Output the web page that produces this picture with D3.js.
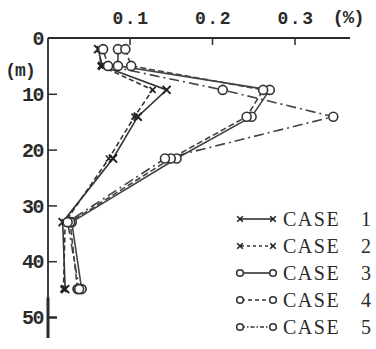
<!DOCTYPE html>
<html><head><meta charset="utf-8">
<script src="https://cdn.jsdelivr.net/npm/d3@7"></script>
<style>body{margin:0;background:#fff}svg{display:block}</style>
</head><body>
<script>
const depths = [2, 5, 9.3, 14.1, 21.6, 33, 45];
const case1 = [0.062, 0.067, 0.145, 0.110, 0.080, 0.019, 0.022];
const case2 = [0.064, 0.065, 0.128, 0.106, 0.075, 0.022, 0.020];
const case3 = [0.086, 0.086, 0.270, 0.248, 0.157, 0.030, 0.042];
const case4 = [0.095, 0.102, 0.262, 0.242, 0.150, 0.028, 0.037];
const case5 = [0.068, 0.074, 0.213, 0.347, 0.143, 0.025, 0.039];
const xTicks = [0.1, 0.2, 0.3];
const yTicks = [0, 10, 20, 30, 40, 50];
const caseNames = ["CASE", "CASE", "CASE", "CASE", "CASE"];
const caseNums = ["1", "2", "3", "4", "5"];

const series = [
  {vals: case1, marker: "x", dash: null, big: true},
  {vals: case2, marker: "x", dash: "5,3", big: false},
  {vals: case3, marker: "o", dash: null},
  {vals: case4, marker: "o", dash: "6,3"},
  {vals: case5, marker: "o", dash: "10,4,2,4"}
];

const W = 376, H = 349;
const svg = d3.select("body").append("svg").attr("width", W).attr("height", H);
const x = d3.scaleLinear().domain([0, 0.3]).range([47, 294.5]);
const y = d3.scaleLinear().domain([0, 50]).range([38, 317]);
const ink = "#2a2a2a";

// top axis
const gx = svg.append("g").attr("transform", `translate(0,${y(0)})`)
  .call(d3.axisTop(x).tickValues(xTicks).tickSizeInner(-7).tickSizeOuter(0).tickPadding(14).tickFormat(d3.format(".1f")));
gx.select(".domain").remove();
gx.selectAll(".tick line").attr("stroke", ink).attr("stroke-width", 1.5);
gx.selectAll(".tick text").attr("fill", ink).attr("font-family", "Liberation Mono").attr("font-weight", "bold")
  .attr("font-size", 18).attr("letter-spacing", 1.5).attr("dx", 1);
svg.append("line").attr("x1", 48).attr("x2", 350).attr("y1", y(0)).attr("y2", y(0))
  .attr("stroke", ink).attr("stroke-width", 1.8);

// left axis
const gy = svg.append("g").attr("transform", `translate(48,0)`)
  .call(d3.axisLeft(y).tickValues(yTicks).tickSizeInner(-9).tickSizeOuter(0).tickPadding(5));
gy.select(".domain").remove();
gy.selectAll(".tick line").attr("stroke", ink).attr("stroke-width", 1.5);
gy.selectAll(".tick").filter(d => d === 0).select("line").remove();
gy.selectAll(".tick").filter(d => d === 50).select("line").attr("stroke-width", 2.5);
gy.selectAll(".tick text").attr("fill", ink).attr("font-family", "Liberation Mono").attr("font-weight", "bold")
  .attr("font-size", 20).attr("dy", "0.33em").attr("letter-spacing", -1.5);
svg.append("line").attr("x1", 48).attr("x2", 48).attr("y1", y(0)).attr("y2", 338)
  .attr("stroke", ink).attr("stroke-width", 1.8);
svg.append("line").attr("x1", 48).attr("x2", 48).attr("y1", y(46.5)).attr("y2", 338)
  .attr("stroke", ink).attr("stroke-width", 3);

// unit labels
svg.append("text").attr("x", 348).attr("y", 23).attr("text-anchor", "middle")
  .attr("font-family", "Liberation Mono").attr("font-weight", "bold").attr("font-size", 19).attr("letter-spacing", -1).attr("fill", ink).text("(%)");
svg.append("text").attr("x", 20).attr("y", 76).attr("text-anchor", "middle")
  .attr("font-family", "Liberation Mono").attr("font-weight", "bold").attr("font-size", 18).attr("letter-spacing", -1).attr("fill", ink).text("(m)");

// lines
const line = d3.line().x(d => x(d[0])).y(d => y(d[1]));
series.forEach(s => {
  const pts = s.vals.map((v, i) => [v, depths[i]]);
  svg.append("path").attr("d", line(pts)).attr("fill", "none")
    .attr("stroke", s.marker === "x" ? "#333" : "#444").attr("stroke-width", 1.6)
    .attr("stroke-dasharray", s.dash);
});

function drawMarker(g, cx, cy, s, r0) {
  if (s.marker === "o") {
    g.append("circle").attr("cx", cx).attr("cy", cy).attr("r", r0 || 4.5)
      .attr("fill", "#fff").attr("stroke", "#333").attr("stroke-width", 1.6);
  } else {
    const r = r0 || (s.big ? 4 : 3);
    g.append("path").attr("d", `M${cx-r},${cy-r}L${cx+r},${cy+r}M${cx-r},${cy+r}L${cx+r},${cy-r}`)
      .attr("stroke", "#222").attr("stroke-width", s.big ? 2 : 1.6);
  }
}
series.forEach(s => {
  const g = svg.append("g");
  s.vals.forEach((v, i) => drawMarker(g, x(v), y(depths[i]), s));
});

// legend
const legY = [219, 246, 273, 300, 327];
series.forEach((s, i) => {
  const g = svg.append("g");
  const ly = legY[i];
  g.append("line").attr("x1", 241).attr("x2", 272).attr("y1", ly).attr("y2", ly)
    .attr("stroke", "#333").attr("stroke-width", 1.6).attr("stroke-dasharray", s.dash ? (s.marker === "x" ? "3,3" : (i === 4 ? "4,2,1.5,2" : "4,3")) : null);
  drawMarker(g, 240, ly, Object.assign({}, s, {big: false}), s.marker === "o" ? 3.3 : 2.8);
  drawMarker(g, 273, ly, Object.assign({}, s, {big: false}), s.marker === "o" ? 3.3 : 2.8);
  g.append("text").attr("x", 283).attr("y", ly + 7).attr("font-family", "Liberation Serif")
    .attr("font-size", 20).attr("letter-spacing", 1.5).attr("fill", ink).text(caseNames[i]);
  g.append("text").attr("x", 361).attr("y", ly + 7).attr("font-family", "Liberation Serif")
    .attr("font-size", 20).attr("fill", ink).text(caseNums[i]);
});
</script>
</body></html>
